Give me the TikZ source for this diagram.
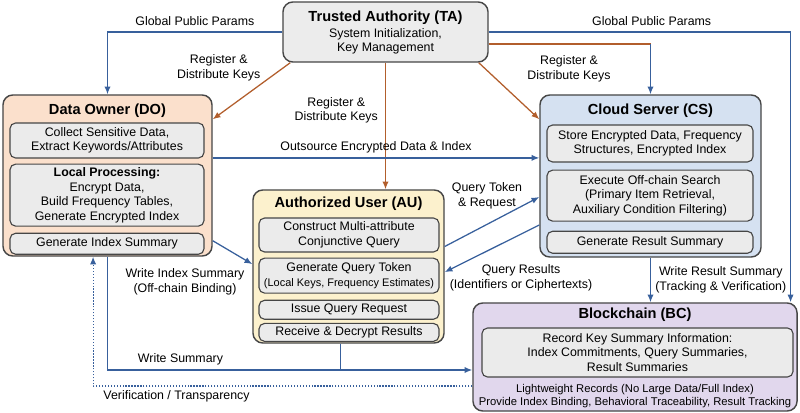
\documentclass[tikz,border=0pt]{standalone}
\usepackage{fontspec}
\setmainfont{Liberation Sans}
\usetikzlibrary{arrows.meta,positioning}

\definecolor{tafill}{RGB}{236,236,236}
\definecolor{dofill}{RGB}{251,224,204}
\definecolor{csfill}{RGB}{213,225,241}
\definecolor{aufill}{RGB}{252,241,205}
\definecolor{bcfill}{RGB}{225,215,237}
\definecolor{stepfill}{RGB}{235,235,235}
\definecolor{edgegray}{RGB}{70,70,70}
\definecolor{flowblue}{RGB}{56,96,156}
\definecolor{keybrown}{RGB}{178,94,44}

\newcommand{\bodyfont}{\fontsize{8.8}{10.3}\selectfont}
\newcommand{\ttlfont}{\fontsize{10.4}{12}\selectfont\bfseries}
\newcommand{\smallfont}{\fontsize{7.8}{9}\selectfont}
\newcommand{\notefont}{\fontsize{8}{9.2}\selectfont}

\begin{document}
\begin{tikzpicture}[x=0.025cm,y=-0.025cm,>={Latex[length=5.5pt,width=4.5pt]},
    party/.style={draw=edgegray,line width=1pt,rounded corners=7pt},
    stepbox/.style={draw=edgegray,line width=0.8pt,fill=stepfill,rounded corners=4pt,
      align=center,inner sep=1pt,font=\bodyfont},
    ttl/.style={font=\ttlfont,inner sep=1pt},
    lbl/.style={font=\bodyfont,align=center,inner sep=1pt},
    keyline/.style={draw=keybrown,line width=0.9pt},
    flowline/.style={draw=flowblue,line width=0.9pt}]

  \useasboundingbox (0,0) rectangle (800,413);

  % trusted authority
  \node[party,fill=tafill,minimum width=5.125cm,minimum height=1.5cm] (TA) at (385.5,32) {};
  \node[ttl] (TAt) at ([yshift=-0.4cm]TA.north) {Trusted Authority (TA)};
  \node[lbl] (tadesc) at (385.5,41.5) {System Initialization,\\Key Management};

  % data owner
  \node[party,fill=dofill,minimum width=5.225cm,minimum height=4.025cm] (DO) at (107.5,175.5) {};
  \node[ttl] (DOt) at ([yshift=-0.4cm]DO.north) {Data Owner (DO)};
  \node[stepbox,minimum width=4.85cm,minimum height=0.875cm] (do1) at (107,140.5)
    {Collect Sensitive Data,\\Extract Keywords/Attributes};
  \node[stepbox,minimum width=4.85cm,minimum height=1.55cm,below=0.125cm of do1] (do2)
    {\textbf{Local Processing:}\\Encrypt Data,\\Build Frequency Tables,\\Generate Encrypted Index};
  \node[stepbox,minimum width=4.85cm,minimum height=0.525cm,below=0.15cm of do2] (do3)
    {Generate Index Summary};

  % cloud server
  \node[party,fill=csfill,minimum width=5.525cm,minimum height=4.05cm] (CS) at (650.5,176) {};
  \node[ttl] (CSt) at ([yshift=-0.4cm]CS.north) {Cloud Server (CS)};
  \node[stepbox,minimum width=5.15cm,minimum height=0.925cm] (cs1) at (650,143.5)
    {Store Encrypted Data, Frequency\\Structures, Encrypted Index};
  \node[stepbox,minimum width=5.15cm,minimum height=1.275cm,below=0.175cm of cs1] (cs2)
    {Execute Off-chain Search\\(Primary Item Retrieval,\\Auxiliary Condition Filtering)};
  \node[stepbox,minimum width=5.15cm,minimum height=0.55cm,below=0.225cm of cs2] (cs3)
    {Generate Result Summary};

  % authorized user
  \node[party,fill=aufill,minimum width=4.775cm,minimum height=3.825cm] (AU) at (348.5,266.5) {};
  \node[ttl] (AUt) at ([yshift=-0.35cm]AU.north) {Authorized User (AU)};
  \node[stepbox,minimum width=4.5cm,minimum height=0.85cm] (au1) at (349,235)
    {Construct Multi-attribute\\Conjunctive Query};
  \node[stepbox,minimum width=4.5cm,minimum height=0.875cm,below=0.125cm of au1] (au2)
    {Generate Query Token\\{\smallfont (Local Keys, Frequency Estimates)}};
  \node[stepbox,minimum width=4.5cm,minimum height=0.475cm,below=0.15cm of au2] (au3)
    {Issue Query Request};
  \node[stepbox,minimum width=4.5cm,minimum height=0.45cm,below=0.075cm of au3] (au4)
    {Receive \& Decrypt Results};

  % blockchain
  \node[party,fill=bcfill,minimum width=8.1cm,minimum height=2.7cm] (BC) at (635,357) {};
  \node[ttl] (BCt) at ([yshift=-0.3cm]BC.north) {Blockchain (BC)};
  \node[stepbox,minimum width=7.775cm,minimum height=1.225cm] (bc1) at (637.5,352.5)
    {Record Key Summary Information:\\Index Commitments, Query Summaries,\\Result Summaries};
  \node[lbl,font=\notefont] (bcnote) at (635,396)
    {Lightweight Records (No Large Data/Full Index)\\Provide Index Binding, Behavioral Traceability, Result Tracking};

  % public parameters
  \draw[flowline,->] (TA.west) -| (DO.north)
    node[lbl,pos=0.25,above=3pt] (gp1) {Global Public Params};
  \draw[flowline,->] (TA.east) -| ([xshift=-0.18cm]BC.north east)
    node[lbl,pos=0.27,above=3pt] (gp2) {Global Public Params};

  % key distribution
  \draw[keyline,->] ([xshift=0.2cm]TA.south west) -- ([yshift=-0.625cm]DO.north east)
    node[lbl,pos=0.36,anchor=south east] (rk1) {Register \&\\Distribute Keys};
  \draw[keyline,->] (TA.south) -- (TA.south |- AU.north)
    node[lbl,pos=0.375,left=4pt] (rk2) {Register \&\\Distribute Keys};
  \path ([yshift=-0.3cm]TA.east) coordinate (tae);
  \coordinate (tacs) at (tae -| CS.north);
  \draw[keyline] (tae) -- (tacs);
  \draw[flowline,->] (tacs) -- (CS.north);
  \draw[keyline,->] ([xshift=-0.25cm]TA.south east) -- ([yshift=-0.625cm]CS.north west);
  \node[lbl] (rk3) at (569,69) {Register \&\\Distribute Keys};

  % outsourcing and index summary
  \path ([yshift=0.44cm]DO.east) coordinate (doe);
  \draw[flowline,->] (doe) -- (doe -| CS.west)
    node[lbl,midway,above=2pt] (os) {Outsource Encrypted Data \& Index};
  \draw[flowline,->] ([yshift=0.4cm]DO.south east) -- ([yshift=0.06cm]AU.west);
  \node[lbl] (wis) at (185,282) {Write Index Summary\\(Off-chain Binding)};

  % query and results
  \draw[flowline,->] ([yshift=0.5cm]AU.east) -- ([yshift=-0.525cm]CS.west);
  \node[lbl] (qt) at (487,196) {Query Token\\\& Request};
  \draw[flowline,->] ([yshift=-1.225cm]CS.west) -- ([yshift=-0.14cm]AU.east);
  \node[lbl] (qr) at (521,278) {Query Results\\(Identifiers or Ciphertexts)};
  \draw[flowline,->] (CS.south) -- (CS.south |- BC.north)
    node[lbl,midway,right=2pt] (wrs) {Write Result Summary\\(Tracking \& Verification)};

  % summaries to the chain
  \path ([yshift=-0.325cm]BC.west) coordinate (bcw);
  \path ([xshift=-0.2cm]AU.south) coordinate (aus);
  \draw[flowline,->] (DO.south) |- (bcw)
    node[lbl,pos=0.6,above=2pt] (ws) {Write Summary};
  \draw[flowline] (aus) -- (aus |- bcw);

  % verification back to the owner
  \path ([yshift=-0.725cm]BC.west) coordinate (bcv);
  \path ([xshift=-0.36cm]DO.south) coordinate (dov);
  \draw[flowline,line width=0.8pt,dash pattern=on 0.9pt off 1.2pt,->] (bcv) -| (dov)
    node[lbl,pos=0.39,below=2pt] (vt) {Verification / Transparency};
\end{tikzpicture}
\end{document}
